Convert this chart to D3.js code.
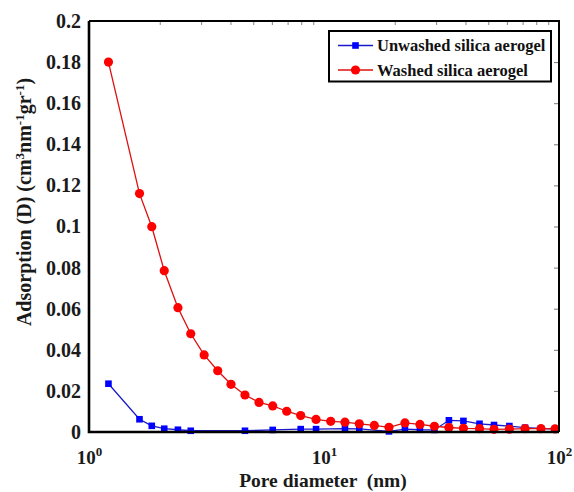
<!DOCTYPE html>
<html><head><meta charset="utf-8">
<script src="https://cdn.jsdelivr.net/npm/d3@7"></script>
<style>body{margin:0;background:#fff}svg{display:block}text{font-family:"Liberation Serif","Times New Roman",serif;font-weight:bold}</style>
</head><body><svg id="c" width="574" height="492"></svg>
<script>
const washedX = [1.21,1.64,1.85,2.09,2.39,2.71,3.09,3.53,4.02,4.61,5.29,6.05,6.94,7.96,9.25,10.68,12.28,14.13,16.37,18.9,22.1,25.6,29.5,34.0,39.2,45.9,52.9,61.5,71.7,83.8,96.2];
const washedY = [0.180,0.116,0.0999,0.0785,0.0605,0.0478,0.0375,0.0298,0.0232,0.0180,0.0144,0.0127,0.0101,0.0080,0.0061,0.0052,0.0048,0.0040,0.0032,0.0023,0.0044,0.0037,0.0028,0.0022,0.0018,0.0016,0.0013,0.0014,0.0016,0.0016,0.0015];
const unwashedX = [1.21,1.64,1.85,2.09,2.39,2.71,4.61,6.05,7.96,9.25,12.28,14.13,18.9,22.1,25.6,29.5,34.0,39.2,45.9,52.9,61.5,71.7,83.8,96.2];
const unwashedY = [0.0235,0.0062,0.0030,0.0016,0.0011,0.0006,0.0006,0.0010,0.0014,0.0014,0.0016,0.0015,0.0003,0.0014,0.0011,0.0010,0.0057,0.0054,0.0040,0.0034,0.0029,0.0021,0.0017,0.0015];
const yTicks = [0,0.02,0.04,0.06,0.08,0.1,0.12,0.14,0.16,0.18,0.2];
const yTickLabels = ["0","0.02","0.04","0.06","0.08","0.1","0.12","0.14","0.16","0.18","0.2"];
const xTicks = [1,10,100];
const xTickExp = ["0","1","2"];
const seriesNames = ["Unwashed silica aerogel","Washed silica aerogel"];

const svg = d3.select("#c");
const L=89,R=559,T=21,B=432;
const x = d3.scaleLog().domain([1,100]).range([L,R]);
const y = d3.scaleLinear().domain([0,0.2]).range([B,T]);

// minor ticks on top axis (inward)
const minor = [];
for (let d=1; d<100; d*=10) for (let k=2;k<=9;k++) minor.push(d*k);
svg.append("g").attr("transform",`translate(0,${T})`)
  .call(d3.axisTop(x).tickValues(minor).tickSize(-4).tickFormat(""))
  .call(g=>{g.select(".domain").remove();g.selectAll("line").attr("stroke","#666").attr("stroke-width",0.8);});
// right axis ticks (inward)
svg.append("g").attr("transform",`translate(${R},0)`)
  .call(d3.axisRight(y).tickValues(yTicks).tickSize(-5).tickFormat(""))
  .call(g=>{g.select(".domain").remove();g.selectAll("line").attr("stroke","#555").attr("stroke-width",0.8);});

// y tick labels
const yAx = svg.append("g").attr("transform",`translate(${L},0)`)
  .call(d3.axisLeft(y).tickValues(yTicks).tickSize(0).tickPadding(8).tickFormat((d,i)=>yTickLabels[i]));
yAx.select(".domain").remove();
yAx.selectAll("text").attr("font-size",20).attr("fill","#1a1a1a").attr("font-family","Liberation Serif").attr("font-weight","bold");

// x tick labels 10^n
const xAx = svg.append("g").attr("transform",`translate(0,${B})`)
  .call(d3.axisBottom(x).tickValues(xTicks).tickSize(0).tickPadding(0).tickFormat(""));
xAx.select(".domain").remove();
xAx.selectAll(".tick").each(function(d,i){
  const t = d3.select(this).append("text").attr("y",32).attr("text-anchor","middle")
    .attr("font-size",19).attr("fill","#1a1a1a").attr("font-family","Liberation Serif").attr("font-weight","bold");
  t.append("tspan").text("10");
  t.append("tspan").attr("dy",-8).attr("font-size",13).text(xTickExp[i]);
});

// lines and markers
const line = d3.line().x(d=>x(d[0])).y(d=>y(d[1]));
const uData = unwashedX.map((v,i)=>[v,unwashedY[i]]);
const wData = washedX.map((v,i)=>[v,washedY[i]]);
svg.append("path").datum(uData).attr("d",line).attr("fill","none").attr("stroke","#1a1acc").attr("stroke-width",1.3);
svg.append("g").selectAll("rect").data(uData).join("rect")
  .attr("x",d=>x(d[0])-3.3).attr("y",d=>y(d[1])-3.3).attr("width",6.6).attr("height",6.6).attr("fill","#0000ff");
svg.append("path").datum(wData).attr("d",line).attr("fill","none").attr("stroke","#dd1010").attr("stroke-width",1.3);
svg.append("g").selectAll("circle").data(wData).join("circle")
  .attr("cx",d=>x(d[0])).attr("cy",d=>y(d[1])).attr("r",4.6).attr("fill","#ff0000");

// frame
svg.append("path").attr("d",`M${L},${T}H${R}V${B}`).attr("fill","none").attr("stroke","#000").attr("stroke-width",2);
svg.append("path").attr("d",`M${L},${T}V${B}H${R}`).attr("fill","none").attr("stroke","#000").attr("stroke-width",2.6);

// legend
const lg = svg.append("g");
lg.append("rect").attr("x",329).attr("y",31).attr("width",222).attr("height",50.5).attr("fill","#fff").attr("stroke","#000").attr("stroke-width",2);
const rows=[{n:seriesNames[0],c:"#1a1acc",m:"sq",yy:45.5},{n:seriesNames[1],c:"#dd1010",m:"ci",yy:70}];
rows.forEach(r=>{
  lg.append("line").attr("x1",338).attr("x2",373).attr("y1",r.yy).attr("y2",r.yy).attr("stroke",r.c).attr("stroke-width",1.3);
  if(r.m==="sq") lg.append("rect").attr("x",355.5-3.3).attr("y",r.yy-3.3).attr("width",6.6).attr("height",6.6).attr("fill","#0000ff");
  else lg.append("circle").attr("cx",355.5).attr("cy",r.yy).attr("r",4.6).attr("fill","#ff0000");
  lg.append("text").attr("x",377).attr("y",r.yy+5.5).attr("font-size",16.5).attr("fill","#111").text(r.n);
});

// axis titles
svg.append("text").attr("x",323).attr("y",487).attr("text-anchor","middle").attr("font-size",19.5).attr("fill","#1a1a1a")
  .attr("xml:space","preserve").text("Pore diameter  (nm)");
const yt = svg.append("text").attr("transform","translate(31,202) rotate(-90)").attr("text-anchor","middle").attr("font-size",20).attr("fill","#1a1a1a");
yt.append("tspan").text("Adsorption (D) (cm");
yt.append("tspan").attr("dy",-7).attr("font-size",13).text("3");
yt.append("tspan").attr("dy",7).text("nm");
yt.append("tspan").attr("dy",-7).attr("font-size",13).text("-1");
yt.append("tspan").attr("dy",7).text("gr");
yt.append("tspan").attr("dy",-7).attr("font-size",13).text("-1");
yt.append("tspan").attr("dy",7).text(")");
</script></body></html>
